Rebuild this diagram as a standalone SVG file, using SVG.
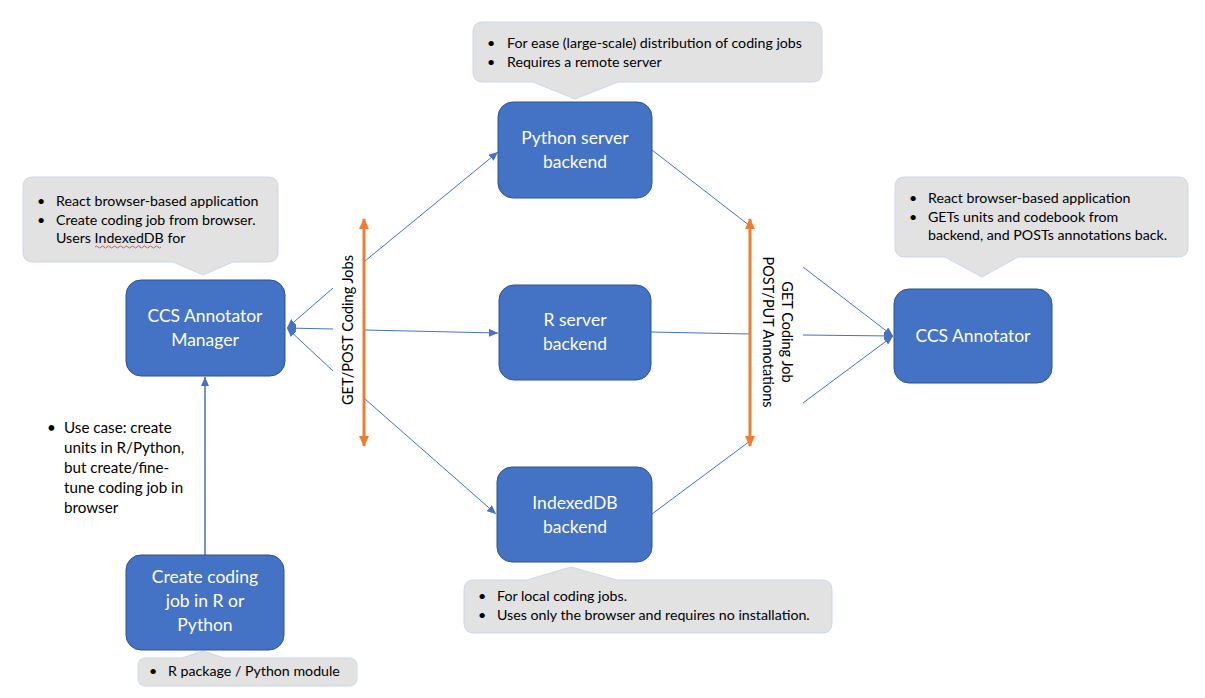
<svg xmlns="http://www.w3.org/2000/svg" width="1205" height="698" viewBox="0 0 1205 698">
<style>
.node{fill:#4472C4;stroke:#2F528F;stroke-width:1}
.ntext{fill:#fff;font-family:Lato,"Liberation Sans",sans-serif;font-size:17.5px;text-anchor:middle}
.callout{fill:#E2E2E2;stroke:#CBD7EE;stroke-width:1}
.ctext{fill:#000;font-family:Lato,"Liberation Sans",sans-serif;font-size:14.2px}
.utext{fill:#000;font-family:Lato,"Liberation Sans",sans-serif;font-size:15.2px}
.lbl{fill:#000;font-family:Lato,"Liberation Sans",sans-serif;font-size:14.5px;text-anchor:middle}
.blue{stroke:#4472C4;stroke-width:1;fill:none}
.orange{stroke:#ED7D31;stroke-width:3;fill:none}
</style>
<defs>
<marker id="ab" markerUnits="userSpaceOnUse" markerWidth="10" markerHeight="8" refX="9" refY="4" orient="auto">
<path d="M0,0 L9,4 L0,8 Z" fill="#4472C4"/>
</marker>
<marker id="ao" markerUnits="userSpaceOnUse" markerWidth="12" markerHeight="10" refX="10" refY="5" orient="auto-start-reverse">
<path d="M0,0 L11,5 L0,10 Z" fill="#ED7D31"/>
</marker>
</defs>

<g id="connectors">
<line class="blue" x1="205" y1="555" x2="205" y2="377" marker-end="url(#ab)" style="stroke-width:1.5"/>
<line class="blue" x1="333" y1="288" x2="287" y2="328" marker-end="url(#ab)"/>
<line class="blue" x1="333" y1="329" x2="287" y2="328" marker-end="url(#ab)"/>
<line class="blue" x1="333" y1="371" x2="287" y2="328" marker-end="url(#ab)"/>
<line class="blue" x1="365" y1="261" x2="498" y2="152" marker-end="url(#ab)"/>
<line class="blue" x1="365" y1="330" x2="498" y2="333" marker-end="url(#ab)"/>
<line class="blue" x1="365" y1="399" x2="496" y2="514" marker-end="url(#ab)"/>
<line class="blue" x1="652" y1="150" x2="750" y2="226"/>
<line class="blue" x1="651" y1="332" x2="750" y2="334"/>
<line class="blue" x1="652" y1="514" x2="750" y2="441"/>
<line class="blue" x1="803" y1="267" x2="893" y2="336" marker-end="url(#ab)"/>
<line class="blue" x1="803" y1="335" x2="893" y2="336" marker-end="url(#ab)"/>
<line class="blue" x1="803" y1="403" x2="893" y2="336" marker-end="url(#ab)"/>
<line class="orange" x1="364" y1="219" x2="364" y2="446" marker-start="url(#ao)" marker-end="url(#ao)"/>
<line class="orange" x1="750" y1="219" x2="750" y2="446" marker-start="url(#ao)" marker-end="url(#ao)"/>
<text class="lbl" transform="translate(353,330) rotate(-90)">GET/POST Coding Jobs</text>
<text class="lbl" transform="translate(782,332) rotate(90)">GET Coding Job</text>
<text class="lbl" transform="translate(763,332) rotate(90)">POST/PUT Annotations</text>
</g>

<g id="callout-python">
<path class="callout" d="M483,22 H812 Q822,22 822,32 V72 Q822,82 812,82 H618 L575,99 L533,82 H483 Q473,82 473,72 V32 Q473,22 483,22 Z"/>
<text class="ctext" x="487" y="48">•</text><text class="ctext" x="507" y="48">For ease (large-scale) distribution of coding jobs</text>
<text class="ctext" x="487" y="67">•</text><text class="ctext" x="507" y="67">Requires a remote server</text>
</g>

<g id="callout-manager">
<path class="callout" d="M33,177 H268 Q278,177 278,187 V252 Q278,262 268,262 H233 L203,275 L173,262 H33 Q23,262 23,252 V187 Q23,177 33,177 Z"/>
<text class="ctext" x="37" y="206">•</text><text class="ctext" x="56" y="206">React browser-based application</text>
<text class="ctext" x="37" y="225">•</text><text class="ctext" x="56" y="225">Create coding job from browser.</text>
<text class="ctext" x="56" y="243">Users IndexedDB for</text>
<path d="M95,247 q1.5,-2 3,0 t3,0 t3,0 t3,0 t3,0 t3,0 t3,0 t3,0 t3,0 t3,0 t3,0 t3,0 t3,0 t3,0 t3,0 t3,0 t3,0 t3,0 t3,0 t3,0 t3,0 t3,0" fill="none" stroke="#E03030" stroke-width="0.8"/>
</g>

<g id="callout-annotator">
<path class="callout" d="M905,177 H1178 Q1188,177 1188,187 V247 Q1188,257 1178,257 H1018 L982,277 L945,257 H905 Q895,257 895,247 V187 Q895,177 905,177 Z"/>
<text class="ctext" x="909" y="203">•</text><text class="ctext" x="928" y="203">React browser-based application</text>
<text class="ctext" x="909" y="222">•</text><text class="ctext" x="928" y="222">GETs units and codebook from</text>
<text class="ctext" x="928" y="240">backend, and POSTs annotations back.</text>
</g>

<g id="callout-indexeddb">
<path class="callout" d="M474,580 H527 L571,567 L617,580 H822 Q832,580 832,590 V623 Q832,633 822,633 H474 Q464,633 464,623 V590 Q464,580 474,580 Z"/>
<text class="ctext" x="478" y="601">•</text><text class="ctext" x="497" y="601">For local coding jobs.</text>
<text class="ctext" x="478" y="620">•</text><text class="ctext" x="497" y="620">Uses only the browser and requires no installation.</text>
</g>

<g id="callout-create">
<path class="callout" d="M146,658 H182 L203,651 L224,658 H349 Q357,658 357,666 V678 Q357,686 349,686 H146 Q138,686 138,678 V666 Q138,658 146,658 Z"/>
<text class="ctext" x="149" y="676">•</text><text class="ctext" x="168" y="676">R package / Python module</text>
</g>

<g id="usecase-note">
<text class="utext" x="47" y="433">•</text>
<text class="utext" x="64" y="433">Use case: create</text>
<text class="utext" x="64" y="453">units in R/Python,</text>
<text class="utext" x="64" y="473">but create/fine-</text>
<text class="utext" x="64" y="493">tune coding job in</text>
<text class="utext" x="64" y="513">browser</text>
</g>

<g id="node-manager">
<rect class="node" x="126" y="280" width="159" height="96" rx="15"/>
<text class="ntext" x="205" y="322">CCS Annotator</text>
<text class="ntext" x="205" y="346">Manager</text>
</g>

<g id="node-python">
<rect class="node" x="498" y="102" width="154" height="96" rx="15"/>
<text class="ntext" x="575" y="144">Python server</text>
<text class="ntext" x="575" y="168">backend</text>
</g>

<g id="node-r">
<rect class="node" x="499" y="285" width="152" height="95" rx="15"/>
<text class="ntext" x="575" y="326">R server</text>
<text class="ntext" x="575" y="350">backend</text>
</g>

<g id="node-indexeddb">
<rect class="node" x="497" y="467" width="155" height="95" rx="15"/>
<text class="ntext" x="575" y="509">IndexedDB</text>
<text class="ntext" x="575" y="533">backend</text>
</g>

<g id="node-create">
<rect class="node" x="126" y="555" width="158" height="95" rx="15"/>
<text class="ntext" x="205" y="583">Create coding</text>
<text class="ntext" x="205" y="607">job in R or</text>
<text class="ntext" x="205" y="631">Python</text>
</g>

<g id="node-annotator">
<rect class="node" x="894" y="289" width="158" height="94" rx="15"/>
<text class="ntext" x="973" y="342">CCS Annotator</text>
</g>
</svg>
